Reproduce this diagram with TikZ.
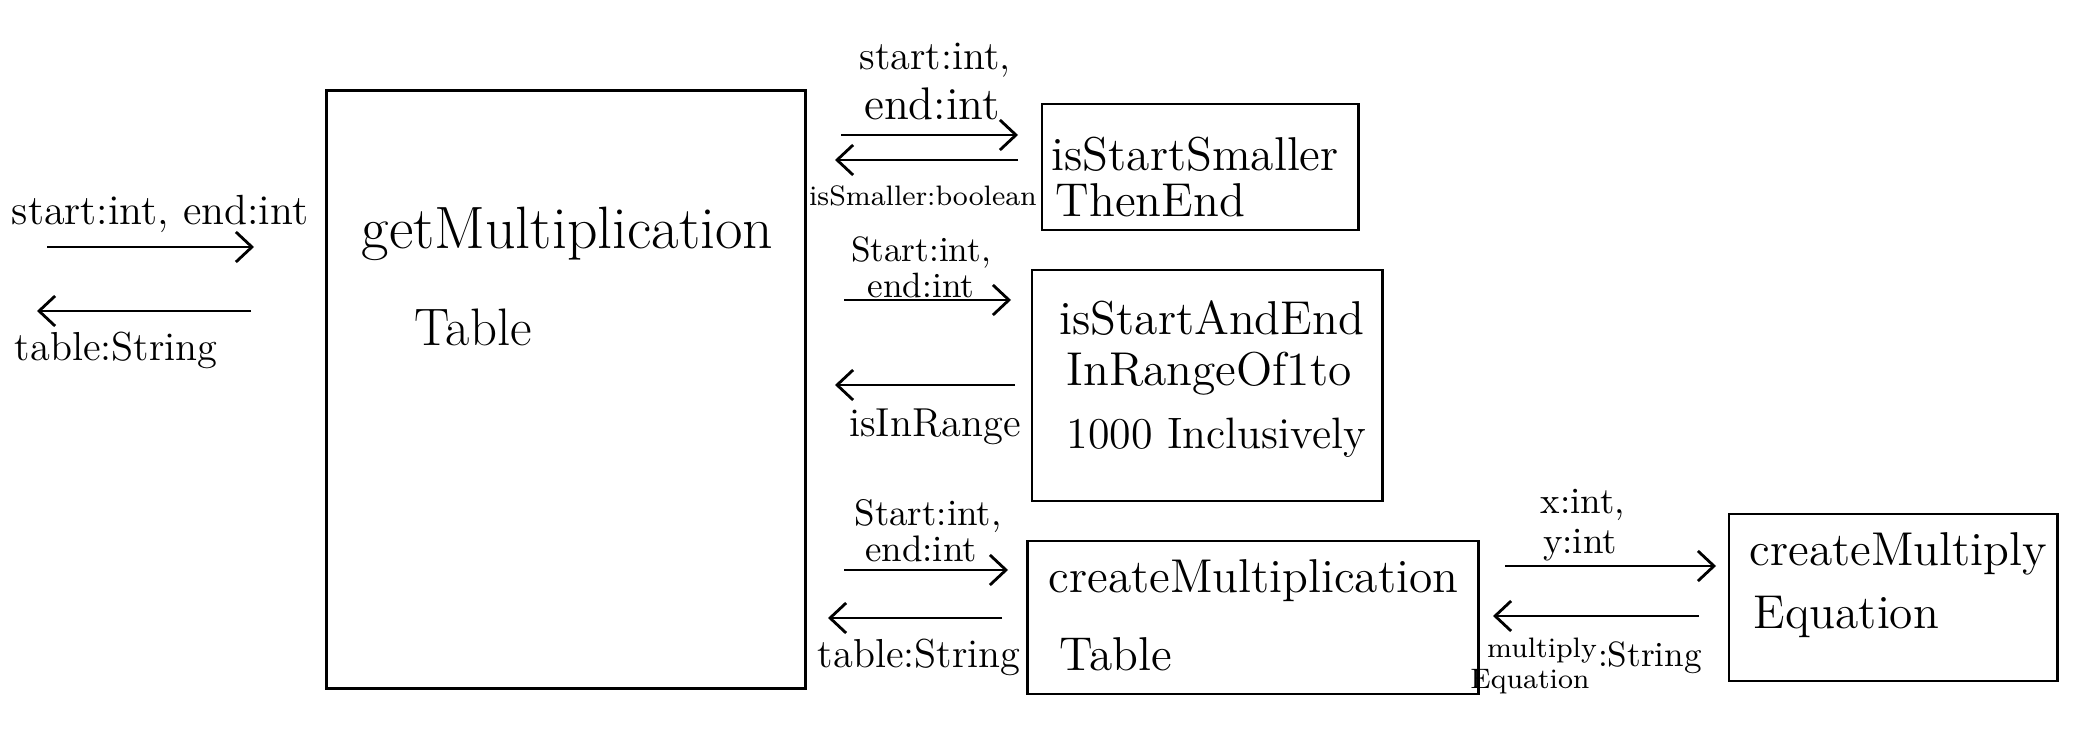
\documentclass[tikz,border=0pt]{standalone}
\usetikzlibrary{arrows.meta}
\begin{document}
\begin{tikzpicture}[x=0.01cm,y=-0.01cm,
  box/.style={draw, line width=0.8pt, inner sep=0pt},
  btxt/.style={anchor=west, inner sep=0pt, font=\fontsize{13.5}{15}\selectfont},
  lbl/.style={inner sep=0pt, font=\fontsize{11.5}{13}\selectfont},
  slbl/.style={inner sep=0pt, font=\fontsize{8}{9}\selectfont},
  flow/.style={line width=0.8pt, -{Straight Barb[length=1.6mm,width=3mm]}}]
\useasboundingbox (0,0) rectangle (2094,734);
% boxes
\node[box, minimum width=4.78cm, minimum height=5.97cm] (main) at (566,389.5) {};
\node[box, minimum width=3.16cm, minimum height=1.26cm] (b1) at (1200,167) {};
\node[box, minimum width=3.50cm, minimum height=2.31cm] (b2) at (1207,385.5) {};
\node[box, minimum width=4.50cm, minimum height=1.53cm] (b3) at (1253,617.5) {};
\node[box, minimum width=3.28cm, minimum height=1.67cm] (b4) at (1893,597.5) {};
% box texts
\node[btxt, font=\fontsize{17}{19}\selectfont] (t0a) at (361,234) {getMultiplication};
\node[btxt, font=\fontsize{15}{17}\selectfont] (t0b) at (414,327) {Table};
\node[btxt] (t1a) at (1051,154) {isStartSmaller};
\node[btxt] (t1b) at (1055,200) {ThenEnd};
\node[btxt] (t2a) at (1059,318) {isStartAndEnd};
\node[btxt] (t2b) at (1066,374) {InRangeOf1to};
\node[btxt, font=\fontsize{12.5}{14}\selectfont] (t2c) at (1066,438) {1000 Inclusively};
\node[btxt] (t3a) at (1048,581) {createMultiplication};
\node[btxt] (t3b) at (1059,654) {Table};
\node[btxt] (t4a) at (1749,554) {createMultiply};
\node[btxt] (t4b) at (1753,617) {Equation};
% labels
\node[lbl, font=\fontsize{12}{14}\selectfont] (l0a) at (160,214) {start:int, end:int};
\node[lbl] (l0b) at (116,350) {table:String};
\node[lbl] (l1a) at (935,60) {start:int,};
\node[lbl, font=\fontsize{13}{15}\selectfont] (l1b) at (932,104) {end:int};
\node[slbl] (l1c) at (923,196) {isSmaller:boolean};
\node[lbl, font=\fontsize{10}{12}\selectfont] (l2a) at (921,253) {Start:int,};
\node[lbl, font=\fontsize{10}{12}\selectfont] (l2b) at (921,285) {end:int};
\node[lbl] (l2c) at (935,427) {isInRange};
\node[lbl, font=\fontsize{10.5}{12}\selectfont] (l3a) at (928,516) {Start:int,};
\node[lbl, font=\fontsize{10.5}{12}\selectfont] (l3b) at (921,549) {end:int};
\node[lbl] (l3c) at (919,657) {table:String};
\node[lbl, font=\fontsize{10.5}{12}\selectfont] (l4a) at (1583,505) {x:int,};
\node[lbl, font=\fontsize{10.5}{12}\selectfont] (l4b) at (1580,545) {y:int};
\node[slbl] (l4c) at (1542,651) {multiply};
\node[slbl] (l4d) at (1530,682) {Equation};
\node[lbl, font=\fontsize{10}{12}\selectfont] (l4e) at (1650,658) {:String};
% arrow end points
\coordinate (a0s) at (47,247);  \coordinate (a0e) at (254,247);
\coordinate (r0s) at (251,311); \coordinate (r0e) at (37,311);
\coordinate (a1s) at (841,135); \coordinate (a1e) at (1018,135);
\coordinate (r1s) at (1018,160);\coordinate (r1e) at (835,160);
\coordinate (a2s) at (844,300); \coordinate (a2e) at (1011,300);
\coordinate (r2s) at (1015,385);\coordinate (r2e) at (835,385);
\coordinate (a3s) at (844,570); \coordinate (a3e) at (1008,570);
\coordinate (r3s) at (1002,618);\coordinate (r3e) at (828,618);
\coordinate (a4s) at (1505,566);\coordinate (a4e) at (1716,566);
\coordinate (r4s) at (1699,616);\coordinate (r4e) at (1493,616);
\draw[flow] (a0s) -- (a0e);
\draw[flow] (r0s) -- (r0e);
\draw[flow] (a1s) -- (a1e);
\draw[flow] (r1s) -- (r1e);
\draw[flow] (a2s) -- (a2e);
\draw[flow] (r2s) -- (r2e);
\draw[flow] (a3s) -- (a3e);
\draw[flow] (r3s) -- (r3e);
\draw[flow] (a4s) -- (a4e);
\draw[flow] (r4s) -- (r4e);
\end{tikzpicture}
\end{document}
